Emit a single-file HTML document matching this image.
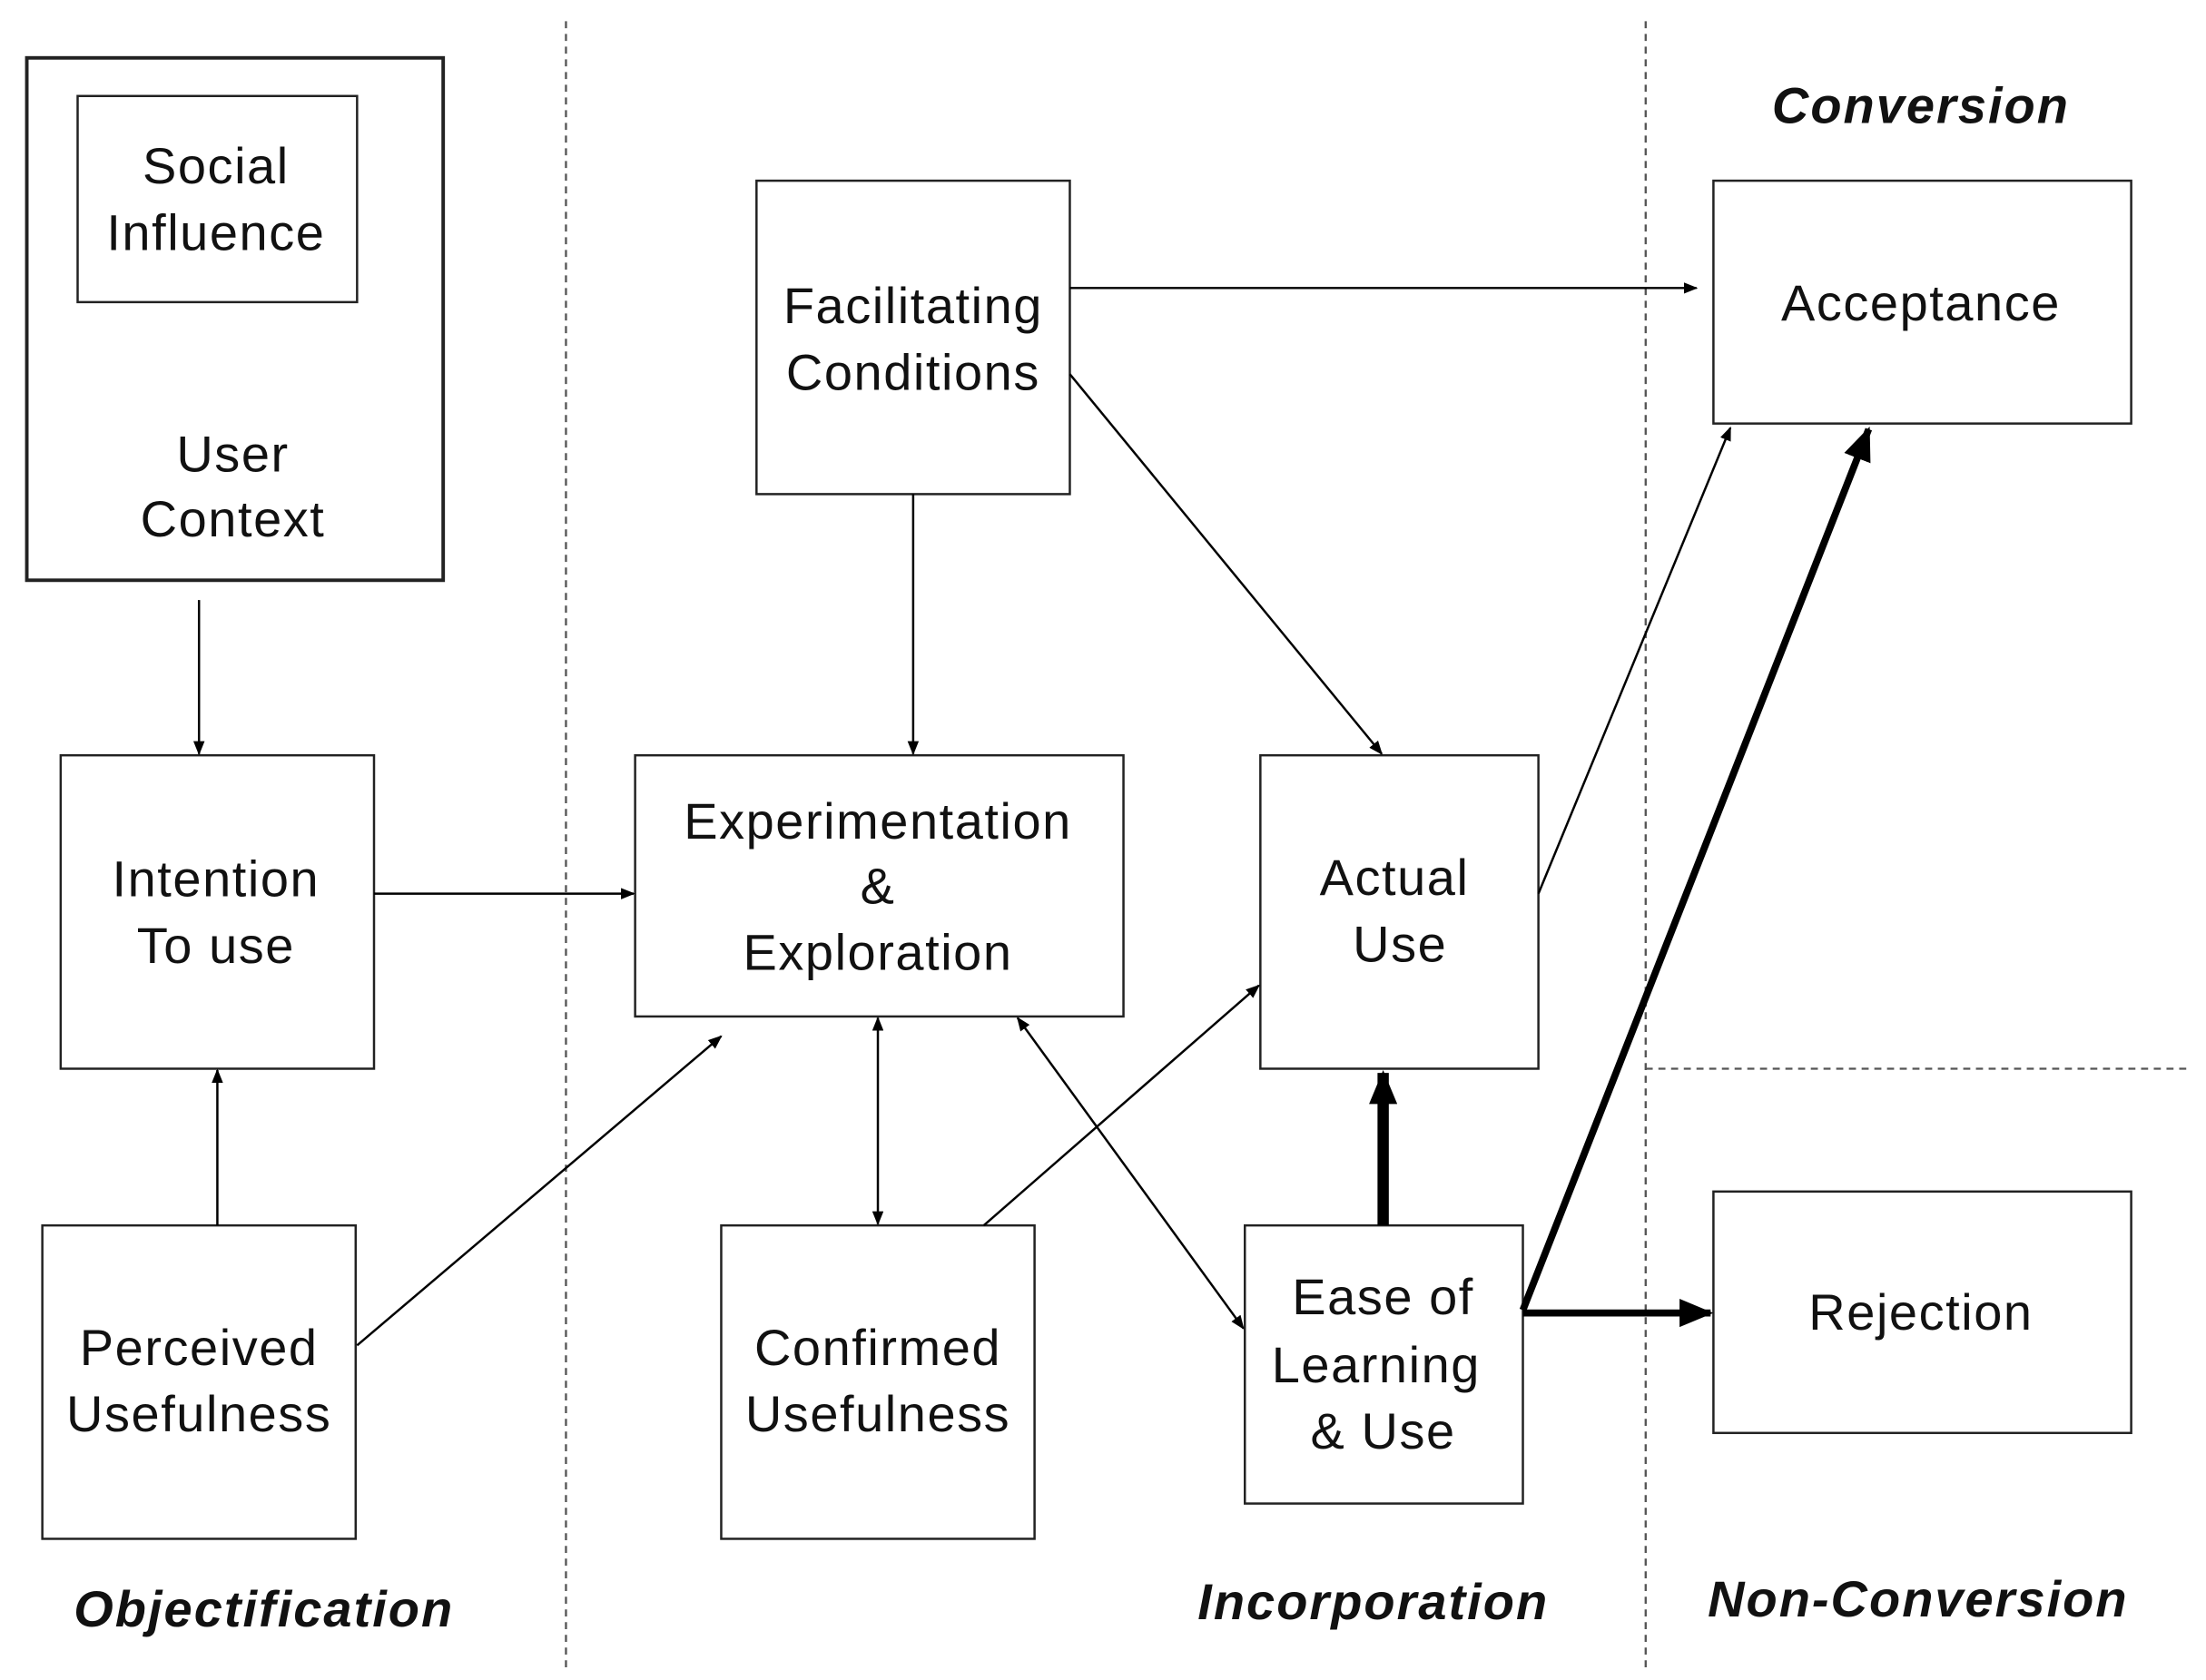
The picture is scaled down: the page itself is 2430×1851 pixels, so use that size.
<!DOCTYPE html>
<html><head><meta charset="utf-8"><style>
html,body{margin:0;padding:0;background:#fff;}
svg{display:block;}
text{font-family:"Liberation Sans",Arial,sans-serif;fill:#111;}
.t{font-size:36px;text-anchor:middle;letter-spacing:1px;}
.l{font-size:36px;font-weight:bold;font-style:italic;text-anchor:middle;letter-spacing:1.3px;}
</style></head><body>
<svg width="2430" height="1851" viewBox="0 0 1563 1190" preserveAspectRatio="none" xmlns="http://www.w3.org/2000/svg">
<defs>
<marker id="a" markerWidth="10" markerHeight="8" refX="9" refY="4" orient="auto" markerUnits="userSpaceOnUse"><path d="M0,0 L10,4 L0,8 z" fill="#000"/></marker>
<marker id="s" markerWidth="10" markerHeight="8" refX="1" refY="4" orient="auto" markerUnits="userSpaceOnUse"><path d="M10,0 L0,4 L10,8 z" fill="#000"/></marker>
<marker id="b" markerWidth="24" markerHeight="20" refX="22" refY="10" orient="auto" markerUnits="userSpaceOnUse"><path d="M0,0 L24,10 L0,20 z" fill="#000"/></marker>
</defs>
<g stroke="#555" stroke-width="1.5" stroke-dasharray="5,4" fill="none">
<line x1="401" y1="15" x2="401" y2="1182"/>
<line x1="1166" y1="15" x2="1166" y2="1182"/>
<line x1="1166" y1="757" x2="1552" y2="757"/>
</g>
<g fill="#fff" stroke="#222" stroke-width="1.6">
<rect x="19" y="41" width="295" height="370" stroke-width="2.5"/>
<rect x="55" y="68" width="198" height="146"/>
<rect x="43" y="535" width="222" height="222"/>
<rect x="30" y="868" width="222" height="222"/>
<rect x="536" y="128" width="222" height="222"/>
<rect x="450" y="535" width="346" height="185"/>
<rect x="511" y="868" width="222" height="222"/>
<rect x="893" y="535" width="197" height="222"/>
<rect x="882" y="868" width="197" height="197"/>
<rect x="1214" y="128" width="296" height="172"/>
<rect x="1214" y="844" width="296" height="171"/>
</g>
<g stroke="#000" stroke-width="1.6" fill="none">
<line x1="141" y1="425" x2="141" y2="534" marker-end="url(#a)"/>
<line x1="154" y1="868" x2="154" y2="758" marker-end="url(#a)"/>
<line x1="265" y1="633" x2="449" y2="633" marker-end="url(#a)"/>
<line x1="253" y1="953" x2="511" y2="734" marker-end="url(#a)"/>
<line x1="647" y1="350" x2="647" y2="534" marker-end="url(#a)"/>
<line x1="758" y1="204" x2="1202" y2="204" marker-end="url(#a)"/>
<line x1="758" y1="265" x2="979" y2="534" marker-end="url(#a)"/>
<line x1="622" y1="721" x2="622" y2="867" marker-start="url(#s)" marker-end="url(#a)"/>
<line x1="697" y1="868" x2="892" y2="698" marker-end="url(#a)"/>
<line x1="721" y1="721" x2="881" y2="941" marker-start="url(#s)" marker-end="url(#a)"/>
<line x1="1090" y1="633" x2="1226" y2="303" marker-end="url(#a)"/>
</g>
<g stroke="#000" stroke-width="5" fill="none">
<line x1="980" y1="868" x2="980" y2="760" marker-end="url(#b)" stroke-width="8"/>
<line x1="1079" y1="928" x2="1324" y2="304" marker-end="url(#b)"/>
<line x1="1079" y1="930" x2="1212" y2="930" marker-end="url(#b)"/>
</g>
<text class="t" x="153" y="130">Social</text>
<text class="t" x="153" y="177">Influence</text>
<text class="t" x="165" y="334">User</text>
<text class="t" x="165" y="380">Context</text>
<text class="t" x="153" y="635">Intention</text>
<text class="t" x="153" y="682">To use</text>
<text class="t" x="141" y="967">Perceived</text>
<text class="t" x="141" y="1014">Usefulness</text>
<text class="t" x="647" y="229">Facilitating</text>
<text class="t" x="647" y="276">Conditions</text>
<text class="t" x="622" y="594">Experimentation</text>
<text class="t" x="622" y="640">&amp;</text>
<text class="t" x="622" y="687">Exploration</text>
<text class="t" x="622" y="967">Confirmed</text>
<text class="t" x="622" y="1014">Usefulness</text>
<text class="t" x="988" y="634">Actual</text>
<text class="t" x="992" y="681">Use</text>
<text class="t" x="980" y="931">Ease of</text>
<text class="t" x="975" y="979">Learning</text>
<text class="t" x="980" y="1026">&amp; Use</text>
<text class="t" x="1361" y="227">Acceptance</text>
<text class="t" x="1361" y="942">Rejection</text>
<text class="l" x="1361" y="87">Conversion</text>
<text class="l" x="187" y="1152">Objectification</text>
<text class="l" x="973" y="1147">Incorporation</text>
<text class="l" x="1359" y="1145">Non-Conversion</text>
</svg>
</body></html>
